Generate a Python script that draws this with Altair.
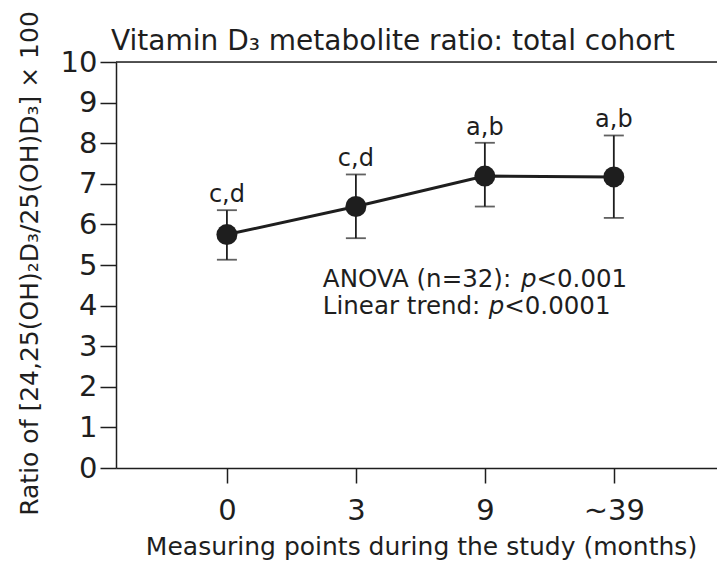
import altair as alt
import pandas as pd

# ---- data ----
months = ["0", "3", "9", "~39"]
mean_ratio = [5.75, 6.44, 7.19, 7.17]
upper_ratio = [6.35, 7.23, 8.01, 8.19]
lower_ratio = [5.13, 5.66, 6.44, 6.16]
sig_letters = ["c,d", "c,d", "a,b", "a,b"]

anova_line = ["ANOVA (n=32): ", "p", "<0.001"]
trend_line = ["Linear trend: ", "p", "<0.0001"]
chart_title = ["Vitamin D₃ metabolite ratio: total cohort"]

FONT = "DejaVu Sans"
INK = "#1e1e1e"

df = pd.DataFrame({
    "idx": list(range(len(months))),
    "month": months,
    "mean": mean_ratio,
    "upper": upper_ratio,
    "lower": lower_ratio,
    "sig": sig_letters,
})

# annotation block (left edge in x-index units, baselines in y units)
ANN_X = 0.744
ANN_Y = [4.46, 3.80]
ANN_FS = 24.5
PX_PER_UNIT = 601 / (3.8 + 0.86)
# DejaVu Sans advance widths (em) for the characters used
W = {"A": .684, "N": .748, "O": .787, "V": .684, " ": .318, "(": .390, ")": .390,
     "n": .634, "=": .838, "3": .636, "2": .636, ":": .337, "L": .557, "i": .278,
     "e": .615, "a": .613, "r": .411, "t": .392, "d": .635, "p": .635}


def width_px(s):
    return sum(W[c] for c in s) * ANN_FS


rows_norm, rows_ital = [], []
for line, yv in zip([anova_line, trend_line], ANN_Y):
    w1 = width_px(line[0])
    wp = width_px(line[1])
    rows_norm.append({"t": line[0], "x": ANN_X, "y": yv})
    rows_ital.append({"t": line[1], "x": ANN_X + w1 / PX_PER_UNIT, "y": yv})
    rows_norm.append({"t": line[2], "x": ANN_X + (w1 + wp) / PX_PER_UNIT, "y": yv})
ann_norm = pd.DataFrame(rows_norm)
ann_ital = pd.DataFrame(rows_ital)

label_expr = "[" + ",".join(f"'{m}'" for m in months) + "][datum.value]"

x_scale = alt.Scale(domain=[-0.86, 3.8], nice=False, zero=False)
y_scale = alt.Scale(domain=[0, 10], nice=False)

x_axis = alt.Axis(
    values=[0, 1, 2, 3], labelExpr=label_expr, grid=False,
    tickSize=15, tickWidth=1.5, tickColor=INK, domainColor=INK, domainWidth=1.5,
    labelFont=FONT, labelFontSize=29, labelColor=INK, labelPadding=13,
    title="Measuring points during the study (months)", titleFont=FONT,
    titleFontSize=25, titleFontWeight="normal", titleColor=INK,
    titleX=305, titleY=86, titleAlign="center", titleBaseline="alphabetic",
)
y_axis = alt.Axis(
    values=[i / 2 for i in range(21)],
    labelExpr="datum.value % 1 === 0 ? datum.label : ''",
    grid=False,
    tickSize={"condition": {"test": "datum.value % 1 === 0", "value": 16}, "value": 8},
    tickWidth=1.5, tickColor=INK, domainColor=INK, domainWidth=1.5,
    labelFont=FONT, labelFontSize=29, labelColor=INK, labelPadding=3,
    title="Ratio of [24,25(OH)₂D₃/25(OH)D₃] × 100", titleFont=FONT,
    titleFontSize=25, titleFontWeight="normal", titleColor=INK,
    titleAngle=270, titleX=-79, titleY=201, titleAlign="center",
    titleBaseline="alphabetic",
)

base = alt.Chart(df)

line = base.mark_line(color=INK, strokeWidth=3).encode(
    x=alt.X("idx:Q", scale=x_scale, axis=x_axis),
    y=alt.Y("mean:Q", scale=y_scale, axis=y_axis),
)
err = base.mark_rule(color=INK, strokeWidth=1.8).encode(
    x="idx:Q", y="lower:Q", y2="upper:Q"
)
cap_hi = base.mark_tick(color=INK, thickness=1.8, size=20, orient="horizontal").encode(
    x="idx:Q", y="upper:Q"
)
cap_lo = base.mark_tick(color=INK, thickness=1.8, size=20, orient="horizontal").encode(
    x="idx:Q", y="lower:Q"
)
pts = base.mark_point(filled=True, shape="circle", size=441, color=INK, opacity=1).encode(
    x="idx:Q", y="mean:Q"
)
sig = base.mark_text(font=FONT, fontSize=24, color=INK, dy=-8, baseline="alphabetic",
                     align="center").encode(
    x="idx:Q", y="upper:Q", text="sig:N"
)
top_rule = alt.Chart(pd.DataFrame({"v": [10]})).mark_rule(color=INK, strokeWidth=1.5).encode(
    y="v:Q"
)
ann1 = alt.Chart(ann_norm).mark_text(font=FONT, fontSize=ANN_FS, color=INK, align="left",
                                     baseline="alphabetic").encode(
    x="x:Q", y="y:Q", text="t:N"
)
ann2 = alt.Chart(ann_ital).mark_text(font=FONT, fontSize=ANN_FS, color=INK, align="left",
                                     baseline="alphabetic", fontStyle="italic").encode(
    x="x:Q", y="y:Q", text="t:N"
)
title_txt = alt.Chart(pd.DataFrame({"t": chart_title})).mark_text(
    font=FONT, fontSize=28, color=INK, align="left", baseline="alphabetic"
).encode(x=alt.value(-5), y=alt.value(-12), text="t:N")

chart = alt.layer(top_rule, err, cap_hi, cap_lo, line, pts, sig, ann1, ann2, title_txt).properties(
    width=601, height=406,
    autosize=alt.AutoSizeParams(type="none"),
    padding={"left": 116, "top": 62, "right": 0, "bottom": 93},
).configure_view(stroke=None).configure(background="white")

chart.save("out.html", embed_options={"renderer": "svg", "actions": False})
